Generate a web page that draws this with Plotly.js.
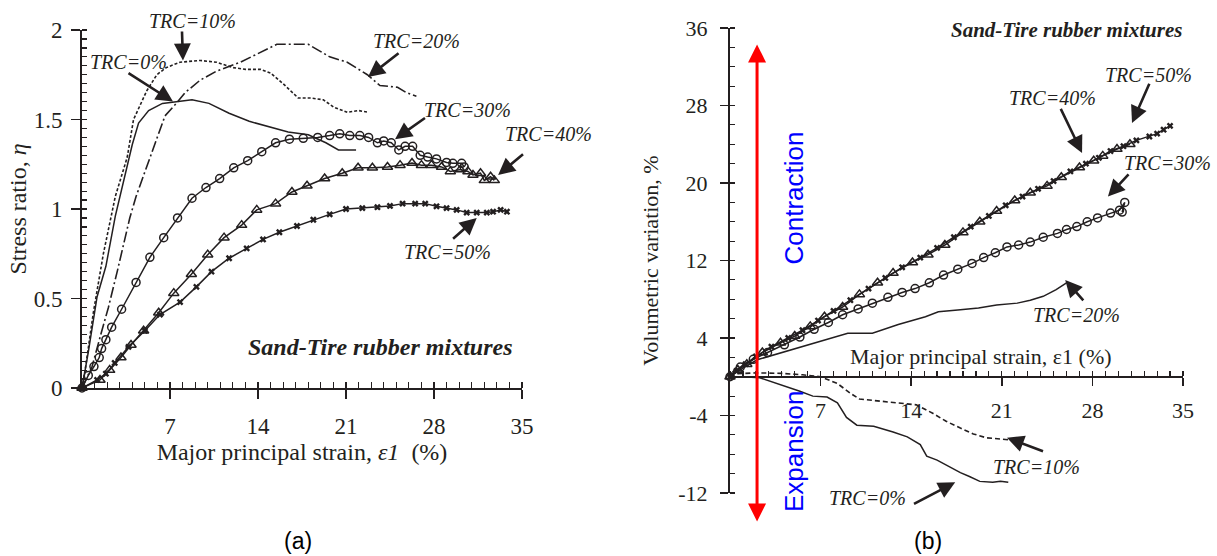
<!DOCTYPE html>
<html>
<head>
<meta charset="utf-8">
<script src="https://cdn.plot.ly/plotly-3.0.1.min.js"></script>
<style>
  html, body { margin: 0; padding: 0; background: #fff; }
  #chart { width: 1217px; height: 556px; }
</style>
</head>
<body>
<div id="chart"></div>
<script>
// ---------- (a) Stress ratio vs major principal strain ----------
const aTrc0X = [0, 0.5, 1.2, 1.9, 2.65, 3.3, 4.0, 4.5, 5.3, 6.4, 7.4, 8.75, 10.1, 11.7, 13.3, 14.85, 16.4, 18.0, 19.4, 20.4, 21.3, 21.8];
const aTrc0Y = [0, 0.2, 0.51, 0.68, 0.96, 1.16, 1.36, 1.48, 1.55, 1.59, 1.60, 1.61, 1.59, 1.535, 1.49, 1.46, 1.43, 1.415, 1.37, 1.33, 1.33, 1.33];

const aTrc10X = [0, 0.25, 0.9, 1.7, 2.65, 3.6, 4.1, 5.15, 5.95, 6.7, 7.8, 9.4, 10.7, 12.0, 13.0, 14.2, 15.0, 16.0, 17.2, 18.2, 19.2, 20.0, 21.1, 22.0, 22.8];
const aTrc10Y = [0, 0.1, 0.42, 0.75, 1.07, 1.29, 1.50, 1.66, 1.75, 1.79, 1.82, 1.83, 1.82, 1.79, 1.78, 1.78, 1.76, 1.70, 1.62, 1.62, 1.61, 1.57, 1.54, 1.55, 1.54];

const aTrc20X = [0, 0.8, 1.5, 2.1, 2.8, 3.4, 3.8, 4.3, 5.2, 6.1, 6.6, 7.5, 8.2, 9.4, 10.7, 12.6, 14.7, 15.5, 18.0, 19.7, 21.1, 22.7, 23.7, 25.1, 25.8, 26.6];
const aTrc20Y = [0, 0.12, 0.3, 0.45, 0.65, 0.84, 0.95, 1.07, 1.25, 1.42, 1.52, 1.59, 1.65, 1.72, 1.77, 1.82, 1.89, 1.92, 1.92, 1.85, 1.82, 1.75, 1.69, 1.68, 1.65, 1.63];

const aTrc30X = [0, 0.5, 0.95, 1.37, 1.56, 1.9, 2.36, 3.15, 4.3, 5.4, 6.5, 7.6, 8.75, 9.86, 10.95, 12.07, 13.18, 14.3, 15.4, 16.5, 17.6, 18.75, 19.7, 20.5, 21.3, 22.1, 22.8, 23.5, 24.0, 24.6, 25.2, 25.7, 26.3, 26.9, 27.5, 28.2, 29.0, 29.5, 30.2, 30.4];
const aTrc30Y = [0, 0.07, 0.12, 0.17, 0.22, 0.27, 0.34, 0.44, 0.59, 0.73, 0.84, 0.95, 1.06, 1.12, 1.17, 1.23, 1.27, 1.32, 1.37, 1.39, 1.395, 1.40, 1.41, 1.42, 1.41, 1.41, 1.40, 1.37, 1.38, 1.37, 1.33, 1.35, 1.35, 1.30, 1.29, 1.28, 1.26, 1.255, 1.255, 1.235];

const aTrc40X = [0, 1.43, 2.2, 3.1, 3.9, 4.9, 6.1, 7.3, 8.7, 10.0, 11.3, 12.7, 13.9, 15.4, 16.7, 17.9, 19.3, 20.7, 21.96, 23.1, 24.3, 25.3, 26.25, 27.0, 27.8, 28.6, 29.3, 30.1, 30.7, 31.1, 31.7, 32.0, 32.5, 32.8];
const aTrc40Y = [0, 0.045, 0.1, 0.17, 0.24, 0.32, 0.42, 0.53, 0.635, 0.745, 0.84, 0.91, 0.995, 1.03, 1.095, 1.13, 1.17, 1.20, 1.23, 1.23, 1.235, 1.245, 1.257, 1.245, 1.245, 1.235, 1.21, 1.22, 1.21, 1.19, 1.20, 1.16, 1.18, 1.16];

const aTrc50X = [0, 1.2, 1.9, 2.6, 3.7, 5.0, 6.2, 7.8, 9.1, 10.3, 11.7, 13.1, 14.4, 15.7, 17.1, 18.4, 19.7, 21.0, 22.3, 23.5, 24.5, 25.5, 26.5, 27.3, 28.2, 29.0, 29.8, 30.6, 31.4, 32.2, 32.7, 33.3, 33.8];
const aTrc50Y = [0, 0.045, 0.08, 0.14, 0.23, 0.32, 0.41, 0.48, 0.565, 0.65, 0.725, 0.78, 0.83, 0.87, 0.905, 0.94, 0.97, 1.0, 1.005, 1.01, 1.017, 1.03, 1.03, 1.03, 1.015, 1.005, 0.995, 0.98, 0.98, 0.98, 0.985, 0.995, 0.985];

// ---------- (b) Volumetric variation vs major principal strain ----------
const bTrc0X = [0, 1.0, 2.3, 3.9, 5.4, 6.4, 7.5, 8.3, 9.0, 9.8, 11.1, 12.6, 13.7, 14.7, 15.2, 16.0, 17.0, 17.8, 18.5, 19.3, 20.3, 20.9, 21.5];
const bTrc0Y = [0, 0, -0.1, -0.8, -1.5, -2.0, -2.1, -2.7, -4.2, -5.0, -5.1, -5.7, -6.2, -7.0, -8.2, -8.6, -9.3, -9.9, -10.3, -10.8, -10.9, -10.8, -10.9];

const bTrc10X = [0, 0.5, 2.0, 4.0, 5.6, 7.0, 8.3, 9.3, 10.0, 11.6, 13.1, 14.4, 15.7, 16.7, 17.8, 18.8, 19.8, 20.9, 21.5];
const bTrc10Y = [0, 0.3, 0.4, 0.35, 0.2, 0, -0.7, -1.7, -2.3, -2.5, -2.7, -2.9, -3.8, -4.6, -5.3, -5.9, -6.3, -6.45, -6.5];

const bTrc20X = [0, 1.0, 2.1, 3.5, 4.8, 6.8, 9.1, 11.0, 13.0, 15.1, 16.1, 17.6, 19.2, 20.6, 22.2, 23.2, 24.2, 25.2, 26.0];
const bTrc20Y = [0, 0.9, 1.75, 2.3, 2.8, 3.6, 4.5, 4.5, 5.4, 6.2, 6.7, 6.9, 7.1, 7.4, 7.6, 7.9, 8.3, 9.0, 9.7];

const bTrc30X = [0, 0.8, 1.8, 2.9, 4.2, 5.4, 6.5, 7.6, 8.7, 9.9, 11.0, 12.2, 13.3, 14.3, 15.4, 16.5, 17.6, 18.7, 19.6, 20.5, 21.4, 22.3, 23.2, 24.2, 25.3, 26.0, 26.8, 27.6, 28.4, 29.4, 30.1, 30.5, 30.3];
const bTrc30Y = [0, 1.0, 1.8, 2.5, 3.3, 4.1, 4.9, 5.6, 6.4, 7.0, 7.6, 8.2, 8.7, 9.1, 9.7, 10.5, 11.1, 11.7, 12.3, 12.8, 13.4, 13.6, 13.9, 14.4, 14.8, 15.2, 15.5, 16.0, 16.4, 16.9, 17.2, 18.0, 17.0];

const bTrc40X = [0, 0.6, 1.3, 2.5, 3.9, 5.0, 6.2, 7.3, 8.7, 10.0, 11.4, 12.6, 14.1, 15.3, 16.6, 18.0, 19.3, 20.6, 22.0, 23.2, 24.5, 25.6, 27.0, 28.1, 28.8, 29.9, 30.9];
const bTrc40Y = [0, 0.7, 1.3, 2.5, 3.5, 4.2, 5.2, 6.2, 7.2, 8.5, 9.7, 10.7, 11.8, 12.6, 13.6, 14.9, 16.0, 17.1, 18.2, 19.0, 19.7, 20.6, 21.6, 22.3, 22.8, 23.5, 24.0];

const bTrc50X = [0, 0.5, 1.2, 2.0, 3.2, 4.5, 5.6, 6.8, 8.0, 9.3, 10.7, 12.0, 13.3, 14.7, 16.0, 17.3, 18.6, 20.0, 21.3, 22.6, 23.8, 25.0, 26.3, 27.5, 28.5, 29.4, 30.4, 31.4, 32.4, 33.0, 33.5, 34.0];
const bTrc50Y = [0, 0.6, 1.3, 2.1, 3.1, 4.0, 4.8, 5.8, 6.8, 7.9, 9.1, 10.2, 11.3, 12.3, 13.3, 14.4, 15.5, 16.6, 17.7, 18.6, 19.4, 20.2, 21.2, 22.0, 22.6, 23.3, 23.8, 24.4, 24.8, 25.1, 25.5, 25.9];

// Axis ticks
const strainTicks = [7, 14, 21, 28, 35];
const etaTicks = [0, 0.5, 1, 1.5, 2];
const etaTickText = ['0', '0.5', '1', '1.5', '2'];
const volTicks = [-12, -4, 4, 12, 20, 28, 36];
const volTickText = ['-12', '-4', '4', '12', '20', '28', '36'];

// ---------- styling ----------
const INK = '#231f20';
const SERIF = 'Liberation Serif, Times New Roman, serif';
const SANS = 'Liberation Sans, Arial, sans-serif';

function line(x, y, xa, ya, extra) {
  return Object.assign({
    x: x, y: y, xaxis: xa, yaxis: ya, type: 'scatter', mode: 'lines',
    line: { color: INK, width: 1.5 }, hoverinfo: 'skip', showlegend: false, cliponaxis: false
  }, extra || {});
}
const circleMk = { symbol: 'circle-open', size: 8, color: INK, line: { width: 1.5, color: INK } };
const triMk = { symbol: 'triangle-up-open', size: 9, color: INK, line: { width: 1.5, color: INK } };
const crossMk = { symbol: 'x', size: 6, color: INK, line: { width: 0 } };

const traces = [
  line(aTrc0X, aTrc0Y, 'x', 'y'),
  line(aTrc10X, aTrc10Y, 'x', 'y', { line: { color: INK, width: 1.6, dash: '3px,2px' } }),
  line(aTrc20X, aTrc20Y, 'x', 'y', { line: { color: INK, width: 1.6, dash: '11px,3px,2px,3px' } }),
  line(aTrc30X, aTrc30Y, 'x', 'y', { mode: 'lines+markers', marker: circleMk }),
  line(aTrc40X, aTrc40Y, 'x', 'y', { mode: 'lines+markers', marker: triMk }),
  line(aTrc50X, aTrc50Y, 'x', 'y', { mode: 'lines+markers', marker: crossMk }),

  line(bTrc0X, bTrc0Y, 'x2', 'y2'),
  line(bTrc10X, bTrc10Y, 'x2', 'y2', { line: { color: INK, width: 1.6, dash: '5px,3px' } }),
  line(bTrc20X, bTrc20Y, 'x2', 'y2'),
  line(bTrc30X, bTrc30Y, 'x2', 'y2', { mode: 'lines+markers', marker: circleMk }),
  line(bTrc40X, bTrc40Y, 'x2', 'y2', { mode: 'lines+markers', marker: triMk }),
  line(bTrc50X, bTrc50Y, 'x2', 'y2', { mode: 'lines+markers', marker: crossMk })
];

// ---------- layout ----------
const W = 1217, H = 556;
const xDomA = [82 / W, 522 / W];
const yDomA = [(H - 388) / H, (H - 30) / H];
const xDomB = [730 / W, 1183 / W];
const yDomB = [(H - 493) / H, (H - 28) / H];
// right-hand strain axis runs through zero volumetric variation
const zeroPos = yDomB[0] + (0 - (-12)) / (36 - (-12)) * (yDomB[1] - yDomB[0]);

function axisBase(extra) {
  return Object.assign({
    showgrid: false, zeroline: false, showline: true,
    linecolor: INK, linewidth: 2, ticks: 'outside', tickcolor: INK,
    tickwidth: 1.5, ticklen: 9, fixedrange: true,
    tickfont: { family: SERIF, size: 23, color: INK }
  }, extra);
}

// page-pixel helpers for free-standing text
const px = v => v / W;
const py = v => (H - v) / H;

function label(xref, yref, x, y, text) {
  return { xref: xref, yref: yref, x: x, y: y, text: '<i>' + text + '</i>', showarrow: false,
    font: { family: SERIF, size: 20, color: INK }, xanchor: 'center', yanchor: 'middle' };
}
function pointer(xref, yref, tip, tail) {
  return { xref: xref, yref: yref, axref: xref, ayref: yref, x: tip[0], y: tip[1], ax: tail[0], ay: tail[1],
    text: '', showarrow: true, arrowhead: 2, arrowsize: 1.3, arrowwidth: 2.6, arrowcolor: INK, standoff: 0 };
}
function note(x, y, text, font, extra) {
  return Object.assign({ xref: 'paper', yref: 'paper', x: x, y: y, text: text, showarrow: false,
    xanchor: 'center', yanchor: 'middle', font: font }, extra || {});
}

const annotations = [
  // (a)
  label('paper', 'paper', px(192), py(21), 'TRC=10%'),
  pointer('x', 'y', [8.03, 1.83], [7.95, 2.0]),
  label('x', 'y', 3.66, 1.82, 'TRC=0%'),
  pointer('x', 'y', [7.24, 1.60], [3.58, 1.765]),
  label('x', 'y', 26.6, 1.94, 'TRC=20%'),
  pointer('x', 'y', [22.75, 1.737], [25.3, 1.877]),
  label('x', 'y', 30.7, 1.553, 'TRC=30%'),
  pointer('x', 'y', [24.9, 1.39], [27.4, 1.514]),
  label('paper', 'paper', px(548), py(134), 'TRC=40%'),
  pointer('x', 'y', [33.1, 1.19], [35.2, 1.313]),
  label('x', 'y', 29.1, 0.76, 'TRC=50%'),
  pointer('x', 'y', [31.4, 0.95], [29.4, 0.827]),
  note(px(380), py(347), '<b><i>Sand-Tire rubber mixtures</i></b>', { family: SERIF, size: 24, color: INK }),
  note(px(298), py(541), '(a)', { family: SANS, size: 23, color: '#000' }),

  // (b)
  { xref: 'x2', yref: 'y2', x: 2.09, y: 34.3, ax: 2.09, ay: -15.1, axref: 'x2', ayref: 'y2',
    text: '', showarrow: true, arrowside: 'end+start', arrowhead: 2, arrowsize: 1.2,
    arrowwidth: 3, arrowcolor: '#ff0000', standoff: 0, startstandoff: 0 },
  { xref: 'x2', yref: 'y2', x: 4.94, y: 18.5, text: 'Contraction', textangle: -90, showarrow: false,
    font: { family: SANS, size: 26, color: '#0000ff' } },
  { xref: 'x2', yref: 'y2', x: 5.0, y: -7.7, text: 'Expansion', textangle: -90, showarrow: false,
    font: { family: SANS, size: 26, color: '#0000ff' } },
  { xref: 'x2', yref: 'y2', x: 19.4, y: 2.1, text: 'Major principal strain, ε1 (%)', showarrow: false,
    font: { family: SERIF, size: 22, color: INK } },
  note(px(1066), py(30), '<b><i>Sand-Tire rubber mixtures</i></b>', { family: SERIF, size: 21, color: INK }),
  label('x2', 'y2', 32.3, 31.2, 'TRC=50%'),
  pointer('x2', 'y2', [31.06, 26.2], [32.45, 30.4]),
  label('x2', 'y2', 24.95, 28.8, 'TRC=40%'),
  pointer('x2', 'y2', [27.2, 23.1], [25.5, 27.8]),
  label('x2', 'y2', 33.8, 22.1, 'TRC=30%'),
  pointer('x2', 'y2', [29.2, 18.6], [30.9, 21.05]),
  label('x2', 'y2', 26.8, 6.4, 'TRC=20%'),
  pointer('x2', 'y2', [25.9, 10.0], [27.4, 7.74]),
  label('x2', 'y2', 23.7, -9.3, 'TRC=10%'),
  pointer('x2', 'y2', [21.4, -6.3], [24.3, -7.74]),
  label('paper', 'paper', px(867), py(498), 'TRC=0%'),
  pointer('x2', 'y2', [17.4, -10.9], [14.1, -13.2]),
  note(px(928), py(541), '(b)', { family: SANS, size: 23, color: '#000' })
];

const layout = {
  width: W, height: H,
  margin: { l: 0, r: 0, t: 0, b: 0 },
  paper_bgcolor: '#fff', plot_bgcolor: 'rgba(0,0,0,0)',
  showlegend: false,
  xaxis: axisBase({
    domain: xDomA, range: [0, 35], anchor: 'y',
    tickmode: 'array', tickvals: strainTicks, ticklabelstandoff: 7,
    minor: { tickmode: 'linear', tick0: 0, dtick: 1, ticks: 'inside', ticklen: 6, tickwidth: 1.2, tickcolor: INK },
    title: { text: 'Major principal strain, <i>ε1</i>\u00a0\u00a0(%)', standoff: 2,
      font: { family: SERIF, size: 24, color: INK } }
  }),
  yaxis: axisBase({
    domain: yDomA, range: [0, 2], anchor: 'x',
    tickmode: 'array', tickvals: etaTicks, ticktext: etaTickText, ticklabelstandoff: 4,
    minor: { tickmode: 'linear', tick0: 0, dtick: 0.05, ticks: 'inside', ticklen: 5, tickwidth: 1.2, tickcolor: INK },
    title: { text: 'Stress ratio, <i>η</i>', standoff: 0, font: { family: SERIF, size: 24, color: INK } }
  }),
  xaxis2: axisBase({
    domain: xDomB, range: [0, 35], anchor: 'free', position: zeroPos,
    tickmode: 'array', tickvals: strainTicks, ticklen: 8, ticklabelstandoff: 6,
    tickfont: { family: SERIF, size: 22, color: INK },
    minor: { tickmode: 'linear', tick0: 0, dtick: 1, ticks: 'inside', ticklen: 5, tickwidth: 1.2, tickcolor: INK }
  }),
  yaxis2: axisBase({
    domain: yDomB, range: [-12, 36], anchor: 'x2',
    tickmode: 'array', tickvals: volTicks, ticktext: volTickText, ticklen: 8, ticklabelstandoff: 8,
    tickfont: { family: SERIF, size: 22, color: INK },
    minor: { tickmode: 'linear', tick0: 0, dtick: 2, ticks: 'inside', ticklen: 5, tickwidth: 1.2, tickcolor: INK },
    title: { text: 'Volumetric variation, %', standoff: 14, font: { family: SERIF, size: 22, color: INK } }
  }),
  annotations: annotations
};

Plotly.newPlot('chart', traces, layout, { displayModeBar: false, staticPlot: true });
</script>
</body>
</html>
